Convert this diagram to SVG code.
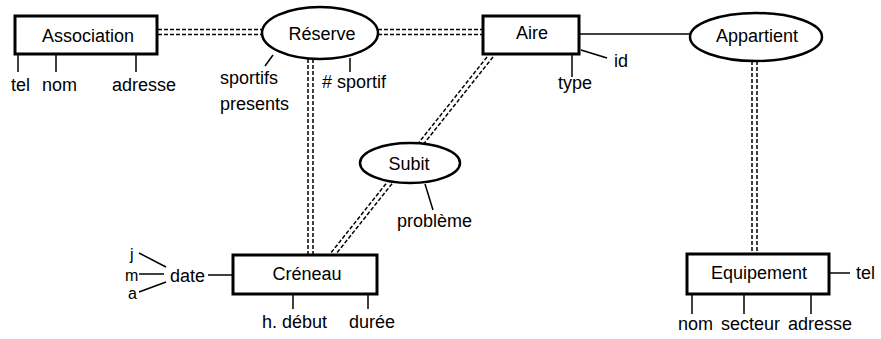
<svg xmlns="http://www.w3.org/2000/svg" width="881" height="339" viewBox="0 0 881 339">
<style>
text{font-family:"Liberation Sans",Arial,sans-serif;font-size:18px;fill:#000}
.c{text-anchor:middle}
.s{font-size:16px}
.ent{fill:#fff;stroke:#000;stroke-width:3}
.rel{fill:#fff;stroke:#000;stroke-width:2.5}
.att{stroke:#000;stroke-width:1.5;fill:none}
.dd{stroke:#000;stroke-width:1.5;stroke-dasharray:4 2;fill:none}
</style>
<rect width="881" height="339" fill="#fff"/>
<g id="connectors">
<line class="dd" x1="158" y1="29.5" x2="262" y2="29.5"/>
<line class="dd" x1="158" y1="34.5" x2="262" y2="34.5"/>
<line class="dd" x1="378" y1="29.5" x2="482" y2="29.5"/>
<line class="dd" x1="378" y1="34.5" x2="482" y2="34.5"/>
<line class="dd" x1="308" y1="59" x2="308" y2="254"/>
<line class="dd" x1="313" y1="59" x2="313" y2="254"/>
<line class="att" x1="580" y1="34" x2="690" y2="34"/>
<line class="dd" x1="752" y1="61" x2="752" y2="253"/>
<line class="dd" x1="757" y1="61" x2="757" y2="253"/>
<line class="dd" x1="487" y1="57" x2="330" y2="254"/>
<line class="dd" x1="493" y1="57" x2="336" y2="254"/>
</g>
<g id="association">
<rect class="ent" x="15" y="16" width="142" height="38"/>
<text class="c" x="88" y="42">Association</text>
<line class="att" x1="18" y1="55" x2="18" y2="72"/>
<line class="att" x1="56" y1="55" x2="56" y2="72"/>
<line class="att" x1="136" y1="55" x2="136" y2="72"/>
<text x="11" y="91">tel</text>
<text x="42" y="91">nom</text>
<text x="112" y="91">adresse</text>
</g>
<g id="reserve">
<ellipse class="rel" cx="320" cy="33" rx="58" ry="26"/>
<text class="c" x="322" y="40">Réserve</text>
<line class="att" x1="273" y1="55" x2="265" y2="66"/>
<text x="220" y="84">sportifs</text>
<text x="220" y="110">presents</text>
<line class="att" x1="350" y1="58" x2="350" y2="72"/>
<text x="322" y="88"># sportif</text>
</g>
<g id="aire">
<rect class="ent" x="483" y="16" width="96" height="38"/>
<text class="c" x="532" y="39">Aire</text>
<line class="att" x1="581" y1="50" x2="607" y2="58"/>
<text x="614" y="67">id</text>
<line class="att" x1="572" y1="55" x2="572" y2="77"/>
<text x="558" y="89">type</text>
</g>
<g id="appartient">
<ellipse class="rel" cx="756" cy="37" rx="66" ry="24"/>
<text class="c" x="757" y="42">Appartient</text>
</g>
<g id="subit">
<ellipse class="rel" cx="410" cy="163" rx="50" ry="20"/>
<text class="c" x="409" y="170">Subit</text>
<line class="att" x1="425" y1="184" x2="433" y2="210"/>
<text x="397" y="227">problème</text>
</g>
<g id="creneau">
<rect class="ent" x="233" y="255" width="144" height="39"/>
<text class="c" x="307" y="280">Créneau</text>
<line class="att" x1="208" y1="275" x2="232" y2="275"/>
<text x="170" y="282">date</text>
<line class="att" x1="139" y1="253" x2="166" y2="267"/>
<line class="att" x1="139" y1="274" x2="164" y2="274"/>
<line class="att" x1="139" y1="292" x2="166" y2="282"/>
<text class="s" x="130" y="260">j</text>
<text class="s" x="125" y="281">m</text>
<text class="s" x="128" y="299">a</text>
<line class="att" x1="293" y1="295" x2="293" y2="309"/>
<line class="att" x1="368" y1="295" x2="368" y2="309"/>
<text x="262" y="328">h. début</text>
<text x="349" y="328">durée</text>
</g>
<g id="equipement">
<rect class="ent" x="687" y="254" width="142" height="40"/>
<text class="c" x="759" y="279">Equipement</text>
<line class="att" x1="830" y1="273" x2="850" y2="273"/>
<text x="856" y="279">tel</text>
<line class="att" x1="692" y1="295" x2="692" y2="314"/>
<line class="att" x1="744" y1="295" x2="744" y2="314"/>
<line class="att" x1="811" y1="295" x2="811" y2="314"/>
<text x="678" y="330">nom</text>
<text x="721" y="330">secteur</text>
<text x="788" y="330">adresse</text>
</g>
</svg>
